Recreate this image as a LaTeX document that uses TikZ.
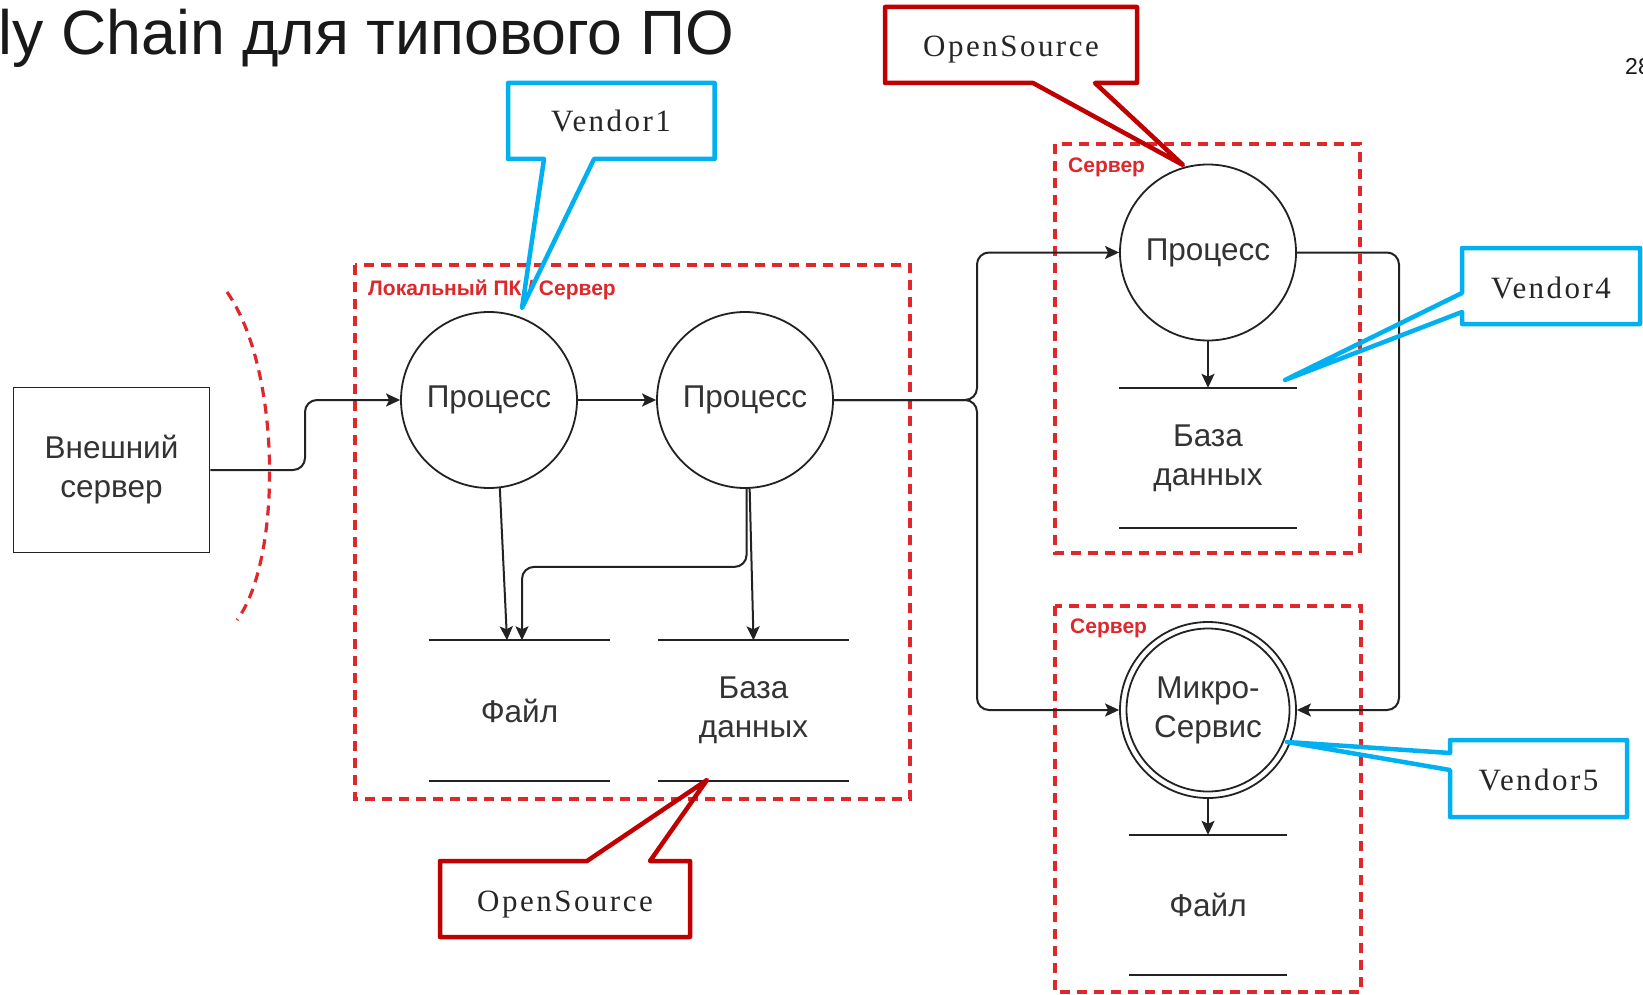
\documentclass[tikz,border=0pt]{standalone}
\usepackage{fontspec}
\setmainfont{Liberation Sans}
\newfontfamily\callfont[LetterSpace=8]{Liberation Serif}
\usetikzlibrary{arrows.meta,calc}
\definecolor{zonered}{RGB}{222,40,44}
\definecolor{calred}{RGB}{192,0,0}
\definecolor{calblue}{RGB}{0,176,240}
\definecolor{ink}{RGB}{51,51,51}
\definecolor{wire}{RGB}{34,34,34}
\begin{document}
\begin{tikzpicture}[x=1pt,y=-1pt,
  every node/.style={inner sep=0pt,text=ink},
  body/.style={font=\fontsize{31.5}{39}\selectfont,align=center},
  proc/.style={body,circle,draw=wire,line width=1.8pt,minimum size=176pt},
  store/.style={body,minimum height=140pt},
  storeline/.style={draw=wire,line width=2pt},
  flow/.style={draw=wire,line width=2pt,rounded corners=12pt,
    -{Stealth[length=14pt,width=13pt,inset=3pt]}},
  zone/.style={draw=zonered,line width=3.2pt,dash pattern=on 10pt off 7pt},
  zonelabel/.style={text=zonered,anchor=west,font=\fontsize{21}{24}\selectfont\bfseries},
  callout/.style={line width=4.5pt,line join=round},
  caltext/.style={anchor=base,text=black!85,font=\callfont\fontsize{31}{36}\selectfont}
]
\useasboundingbox (0,0) rectangle (1643,995);
\clip (0,0) rectangle (1643,995);
\fill[white] (0,0) rectangle (1643,995);

% heading and page number
\node[anchor=base east,text=black!90,font=\fontsize{62.6}{70}\selectfont] (title) at (734,55) {ly Chain для типового ПО};
\node[anchor=base west,text=black!90,font=\fontsize{23}{26}\selectfont] (page) at (1625,75) {28};

% trust zones
\draw[zone] (355,265) rectangle (910,799);
\draw[zone] (1055,144) rectangle (1360,553);
\draw[zone] (1055,606) rectangle (1361,992);
\draw[zone] (227,292) .. controls (282,370) and (282,560) .. (237,620);
\node[zonelabel] (zlocal) at (368,290) {Локальный ПК / Сервер};
\node[zonelabel] (zsrv1) at (1068,167) {Сервер};
\node[zonelabel] (zsrv2) at (1070,628) {Сервер};

% external entity
\node[body,draw=wire,line width=1.8pt,minimum width=196pt,minimum height=165pt] (ext) at (111.5,470) {Внешний\\сервер};

% processes
\node[proc] (p1) at (489,400) {Процесс};
\node[proc] (p2) at (745,400) {Процесс};
\node[proc] (p3) at (1208,252.5) {Процесс};
\node[proc] (ms) at (1208,710) {Микро-\\Сервис};
\draw[wire,line width=1.8pt] (ms.center) circle[radius=81.5pt];

% data stores
\node[store,minimum width=181.5pt] (f1) at (519.5,710.5) {Файл};
\node[store,minimum width=191pt] (db1) at (753.5,710.5) {База\\данных};
\node[store,minimum width=177pt] (db2) at (1208,458) {База\\данных};
\node[store,minimum width=157.5pt] (f2) at (1208,905) {Файл};
\foreach \s in {f1,db1,db2,f2}{
  \draw[storeline] (\s.north west) -- (\s.north east);
  \draw[storeline] (\s.south west) -- (\s.south east);
}

% data flows
\coordinate (j1) at (305,435);
\coordinate (fork) at (977,400);
\coordinate (rjog) at (1399,480);
\draw[flow] (ext.east) -| (j1) |- (p1.west);
\draw[flow] (p1.east) -- (p2.west);
\draw[flow] (p1.-83) -- ([xshift=-12.5pt]f1.north);
\draw[flow] (p2.-89) -- ++(0,78) -| ([xshift=2.5pt]f1.north);
\draw[flow] (p2.-87) -- (db1.north);
\draw[flow] (p2.east) -- (fork) |- (p3.west);
\draw[flow] (p2.east) -- (fork) |- (ms.west);
\draw[flow] (p3.east) -| (rjog) |- (ms.east);
\draw[flow] (p3.south) -- (db2.north);
\draw[flow] (ms.south) -- (f2.north);

% supplier callouts
\draw[callout,draw=calblue] (508,83) -- (714.6,83) -- (714.6,159) -- (594,159) -- (522,308) -- (544,159) -- (508,159) -- cycle;
\node[caltext] (v1) at (611,132) {Vendor1};
\draw[callout,draw=calred] (885,7) -- (1137,7) -- (1137,83) -- (1095,83) -- (1183,165) -- (1033,83) -- (885,83) -- cycle;
\node[caltext] (os1) at (1011,57) {OpenSource};
\draw[callout,draw=calred] (440,861) -- (587,861) -- (707,780) -- (650,861) -- (690,861) -- (690,937) -- (440,937) -- cycle;
\node[caltext] (os2) at (565,911) {OpenSource};
\draw[callout,draw=calblue] (1462,248) -- (1640,248) -- (1640,324) -- (1462,324) -- (1462,312) -- (1285,380) -- (1462,293) -- cycle;
\node[caltext] (v4) at (1551,298) {Vendor4};
\draw[callout,draw=calblue] (1450,740) -- (1627,740) -- (1627,817) -- (1450,817) -- (1450,770) -- (1287,742) -- (1450,753) -- cycle;
\node[caltext] (v5) at (1538.5,790) {Vendor5};
\end{tikzpicture}
\end{document}
